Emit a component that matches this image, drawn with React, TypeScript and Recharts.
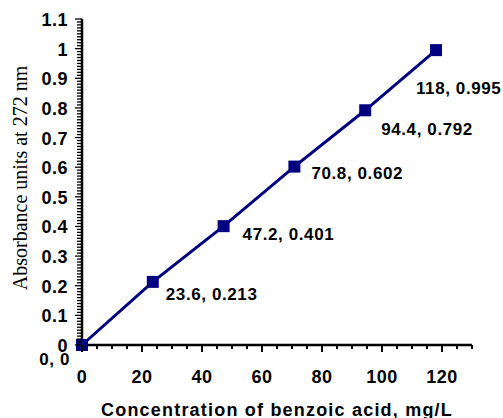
import React from "react";
import { LineChart, Line, XAxis, YAxis, LabelList, Label } from "recharts";

const concentrations = [0, 23.6, 47.2, 70.8, 94.4, 118];
const absorbances = [0, 0.213, 0.401, 0.602, 0.792, 0.995];
const pointLabels = ["0, 0", "23.6, 0.213", "47.2, 0.401", "70.8, 0.602", "94.4, 0.792", "118, 0.995"];

const xMajorTicks = [0, 20, 40, 60, 80, 100, 120];
const yMajorTicks = [0, 0.1, 0.2, 0.3, 0.4, 0.5, 0.6, 0.7, 0.8, 0.9, 1, 1.1];

// label placement relative to each marker (dx, dy, anchor)
const labelOffsets: [number, number, "start" | "end"][] = [
  [-12, 20, "end"],
  [13, 18, "start"],
  [19, 14, "start"],
  [17, 12, "start"],
  [16, 25, "start"],
  [-20, 44, "start"],
];

const NAVY = "#000080";
const SANS = '"Liberation Sans", Arial, sans-serif';

const data = concentrations.map((x, i) => ({ x, y: absorbances[i], label: pointLabels[i] }));

// minor ticks every 5 on x, every 0.01 on y
const xAllTicks: number[] = [];
for (let i = 0; i <= 130; i += 5) xAllTicks.push(i);
const yAllTicks: number[] = [];
for (let i = 0; i <= 110; i++) yAllTicks.push(i / 100);

const isMajorY = (v: number) => yMajorTicks.some((t) => Math.abs(t - v) < 1e-6);

function XTick(props: any) {
  const { x, y, payload } = props;
  const major = xMajorTicks.includes(payload.value);
  return (
    <g>
      <line x1={x} x2={x} y1={y} y2={y + (major ? 7 : 4)} stroke="#000" strokeWidth={2} />
      {major && (
        <text x={x} y={y + 38} textAnchor="middle" fontFamily={SANS} fontWeight="bold" fontSize={18} letterSpacing={0.5} fill="#000">
          {payload.value}
        </text>
      )}
    </g>
  );
}

function YTick(props: any) {
  const { x, y, payload } = props;
  const major = isMajorY(payload.value);
  return (
    <g>
      <line x1={x} x2={x - (major ? 7 : 5)} y1={y} y2={y} stroke="#000" strokeWidth={1.3} />
      {major && (
        <text x={x - 14} y={y + 7} textAnchor="end" fontFamily={SANS} fontWeight="bold" fontSize={18} letterSpacing={0.5} fill="#000">
          {String(Math.round(payload.value * 10) / 10)}
        </text>
      )}
    </g>
  );
}

function SquareDot(props: any) {
  const { cx, cy } = props;
  if (cx == null || cy == null) return null;
  return <rect x={cx - 6} y={cy - 6} width={12} height={12} fill={NAVY} />;
}

function PointLabel(props: any) {
  const { x, y, index, value } = props;
  const [dx, dy, anchor] = labelOffsets[index];
  return (
    <text x={x + dx} y={y + dy} textAnchor={anchor} fontFamily={SANS} fontWeight="bold" fontSize={17} letterSpacing={0.6} fill="#000">
      {value}
    </text>
  );
}

export default function App() {
  return (
    <div style={{ position: "absolute", left: 0, top: 0, width: 503, height: 418, background: "#fff" }}>
      <LineChart width={503} height={418} data={data} margin={{ top: 19, right: 31, bottom: 0, left: 0 }}>
        <XAxis
          dataKey="x"
          type="number"
          domain={[0, 130]}
          ticks={xAllTicks}
          interval={0}
          tickSize={0}
          tickMargin={0}
          tickLine={false}
          tick={<XTick />}
          height={73}
          axisLine={{ stroke: "#000", strokeWidth: 2.5 }}
        >
          <Label
            content={() => (
              <text x={277} y={416} textAnchor="middle" fontFamily={SANS} fontWeight="bold" fontSize={18} letterSpacing={1.2} fill="#000">
                Concentration of benzoic acid, mg/L
              </text>
            )}
          />
        </XAxis>
        <YAxis
          type="number"
          domain={[0, 1.1]}
          ticks={yAllTicks}
          interval={0}
          tickSize={0}
          tickMargin={0}
          tickLine={false}
          tick={<YTick />}
          width={82}
          axisLine={{ stroke: "#000", strokeWidth: 2.5 }}
        >
          <Label
            content={() => (
              <text
                x={27}
                y={178}
                transform="rotate(-90 27 178)"
                textAnchor="middle"
                fontFamily='"Liberation Serif", "Times New Roman", serif'
                fontSize={20}
                fill="#000"
              >
                Absorbance units at 272  nm
              </text>
            )}
          />
        </YAxis>
        <Line
          type="linear"
          dataKey="y"
          stroke={NAVY}
          strokeWidth={3}
          dot={<SquareDot />}
          activeDot={false}
          isAnimationActive={false}
        >
          <LabelList dataKey="label" content={<PointLabel />} />
        </Line>
      </LineChart>
    </div>
  );
}
